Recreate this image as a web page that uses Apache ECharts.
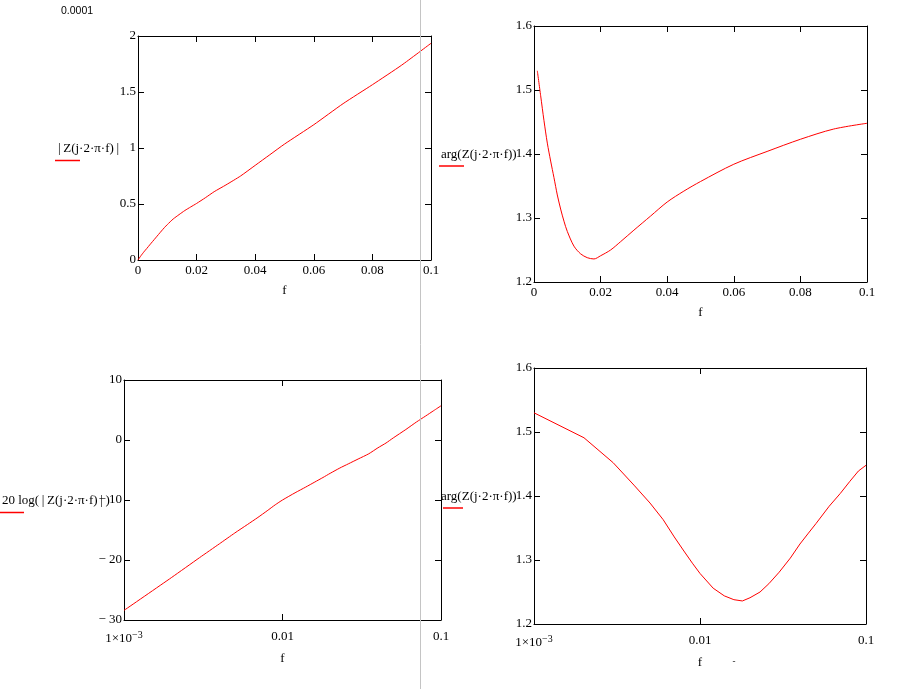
<!DOCTYPE html>
<html>
<head>
<meta charset="utf-8">
<script src="https://cdn.jsdelivr.net/npm/echarts/dist/echarts.min.js"></script>
<style>
html,body{margin:0;padding:0;background:#fff;}
#chart{width:918px;height:689px;}
</style>
</head>
<body>
<div id="chart"></div>
<script>
// ---- Data ----
// Linear frequency samples for |Z| (top-left)
const freqLin = [0, 0.001, 0.002, 0.003, 0.004, 0.005, 0.006, 0.007, 0.008, 0.009, 0.010, 0.012, 0.014, 0.016, 0.018, 0.020, 0.023, 0.026, 0.030, 0.035, 0.040, 0.045, 0.050, 0.060, 0.070, 0.080, 0.090, 0.100];
const magnitude = [0, 0.038, 0.072, 0.103, 0.135, 0.166, 0.197, 0.228, 0.259, 0.289, 0.316, 0.366, 0.405, 0.442, 0.474, 0.505, 0.556, 0.610, 0.670, 0.750, 0.845, 0.940, 1.035, 1.208, 1.396, 1.565, 1.740, 1.935];
// Frequency samples for arg and dB curves
const freq = [0.001, 0.002, 0.003, 0.004, 0.005, 0.006, 0.007, 0.008, 0.009, 0.010, 0.012, 0.014, 0.016, 0.018, 0.020, 0.023, 0.026, 0.030, 0.035, 0.040, 0.045, 0.050, 0.060, 0.070, 0.080, 0.090, 0.100];
const phase = [1.530, 1.491, 1.452, 1.417, 1.389, 1.363, 1.336, 1.314, 1.295, 1.279, 1.256, 1.244, 1.238, 1.236, 1.241, 1.250, 1.263, 1.281, 1.303, 1.325, 1.342, 1.357, 1.384, 1.404, 1.423, 1.439, 1.448];
const magDb = [-28.4, -22.9, -19.6, -17.3, -15.5, -14.1, -12.9, -11.8, -10.8, -10.0, -8.8, -7.85, -7.0, -6.25, -5.55, -4.67, -3.98, -3.17, -2.3, -1.3, -0.5, 0.35, 1.75, 3.0, 4.0, 4.9, 5.7];

// tick settings
const magTicks = {min: 0, max: 2, interval: 0.5};
const phaseTicks = {min: 1.2, max: 1.6, interval: 0.1};
const dbTicks = {min: -30, max: 10, interval: 10};
const linF = {min: 0, max: 0.1, interval: 0.02};
const logF = {min: 0.001, max: 0.1};

const serif = '"Liberation Serif", "DejaVu Serif", serif';
const labelFont = {fontFamily: serif, fontSize: 13, color: '#000'};

function pairs(xs, ys){ return xs.map((x,i)=>[x, ys[i]]); }
function fmtLin(v){ if (Math.abs(v) < 1e-12) return '0'; return String(+v.toFixed(2)); }
function fmtPhase(v){ return v.toFixed(1); }
function fmtDb(v){ v = Math.round(v); return v < 0 ? '\u2212 ' + (-v) : String(v); }
function fmtLog(v){
  if (v < 0.005) return '{n|1\u00d710}{s|\u22123}';
  if (v < 0.05) return '0.01';
  return '0.1';
}

const grids = [
  {left: 138, top: 36, width: 293, height: 224},
  {left: 534, top: 26, width: 333, height: 256},
  {left: 124, top: 380, width: 317, height: 240},
  {left: 534, top: 368, width: 332, height: 256}
];

function xAxes(gi, type, range, fmt, labelMargin, nameGap){
  const base = {
    gridIndex: gi, type: type, min: range.min, max: range.max,
    axisLine: {show: true, onZero: false, lineStyle: {color: '#000', width: 1}},
    axisTick: {show: true, inside: true, length: 6, lineStyle: {color: '#000'}},
    splitLine: {show: false}, minorTick: {show: false}
  };
  if (range.interval) base.interval = range.interval;
  if (type === 'log') base.logBase = 10;
  const bottom = Object.assign({}, base, {
    position: 'bottom',
    name: 'f', nameLocation: 'middle', nameGap: nameGap,
    nameTextStyle: {fontFamily: serif, fontSize: 13, color: '#000'},
    axisLabel: Object.assign({show: true, margin: labelMargin, formatter: fmt,
      rich: {n: {fontFamily: serif, fontSize: 13, color: '#000'}, s: {fontFamily: serif, fontSize: 10, color: '#000', verticalAlign: 'top', padding: [0,0,8,0]}}
    }, labelFont)
  });
  const top = Object.assign({}, base, {position: 'top', axisLabel: {show: false}});
  return [bottom, top];
}
function yAxes(gi, range, fmt){
  const base = {
    gridIndex: gi, type: 'value', min: range.min, max: range.max, interval: range.interval,
    axisLine: {show: true, onZero: false, lineStyle: {color: '#000', width: 1}},
    axisTick: {show: true, inside: true, length: 6, lineStyle: {color: '#000'}},
    splitLine: {show: false}
  };
  const left = Object.assign({}, base, {position: 'left',
    axisLabel: Object.assign({show: true, margin: 2, formatter: fmt}, labelFont)});
  const right = Object.assign({}, base, {position: 'right', axisLabel: {show: false}});
  return [left, right];
}

const xAxis = [].concat(
  xAxes(0, 'value', linF, fmtLin, 4, 24),
  xAxes(1, 'value', linF, fmtLin, 4, 24),
  xAxes(2, 'log', logF, fmtLog, 10, 32),
  xAxes(3, 'log', logF, fmtLog, 10, 32)
);
const yAxis = [].concat(
  yAxes(0, magTicks, fmtLin),
  yAxes(1, phaseTicks, fmtPhase),
  yAxes(2, dbTicks, fmtDb),
  yAxes(3, phaseTicks, fmtPhase)
);

function line(xi, yi, data, smooth){
  return {type: 'line', xAxisIndex: xi, yAxisIndex: yi, data: data,
    showSymbol: false, smooth: smooth, silent: true,
    lineStyle: {color: '#ff0000', width: 1}, itemStyle: {color: '#ff0000'}};
}

const series = [
  line(0, 0, pairs(freqLin, magnitude), 0.2),
  line(2, 2, pairs(freq, phase), 0.3),
  line(4, 4, pairs(freq, magDb), 0.2),
  line(6, 6, pairs(freq, phase), false)
];

function redLine(x1, x2, y){
  return {type: 'line', silent: true, shape: {x1: x1, y1: y, x2: x2, y2: y}, style: {stroke: '#ff0000', lineWidth: 1.5}};
}
function label(x, y, s){
  return {type: 'text', x: x, y: y, silent: true, style: {text: s, fontFamily: serif, fontSize: 13, fill: '#000', verticalAlign: 'middle'}};
}

const graphic = [
  {type: 'text', x: 61, y: 11, silent: true, style: {text: '0.0001', fontFamily: '"Liberation Sans", Arial, sans-serif', fontSize: 10.5, fill: '#000', verticalAlign: 'middle'}},
  label(58, 149, '|\u2009Z(j\u00b72\u00b7\u03c0\u00b7f)\u2009|'),
  redLine(55, 80, 160.5),
  label(441, 155, 'arg(Z(j\u00b72\u00b7\u03c0\u00b7f))'),
  redLine(439, 464, 166),
  label(2, 501, '20 log(\u2009|\u2009Z(j\u00b72\u00b7\u03c0\u00b7f)\u2009|\u2009)'),
  redLine(0, 24, 512.5),
  label(441, 497, 'arg(Z(j\u00b72\u00b7\u03c0\u00b7f))'),
  redLine(443, 463, 508),
  {type: 'text', x: 734, y: 662, silent: true, style: {text: '-', fontFamily: serif, fontSize: 9, fill: '#000', align: 'center', verticalAlign: 'middle'}},
  {type: 'line', silent: true, z: 100, shape: {x1: 420.5, y1: 0, x2: 420.5, y2: 689}, style: {stroke: '#c4c4c4', lineWidth: 1}}
];

const chart = echarts.init(document.getElementById('chart'), null, {renderer: 'canvas'});
chart.setOption({
  animation: false,
  backgroundColor: '#fff',
  grid: grids.map(g => Object.assign({show: false, containLabel: false, outerBoundsMode: 'none'}, g)),
  xAxis: xAxis,
  yAxis: yAxis,
  series: series,
  graphic: graphic
});
</script>
</body>
</html>
